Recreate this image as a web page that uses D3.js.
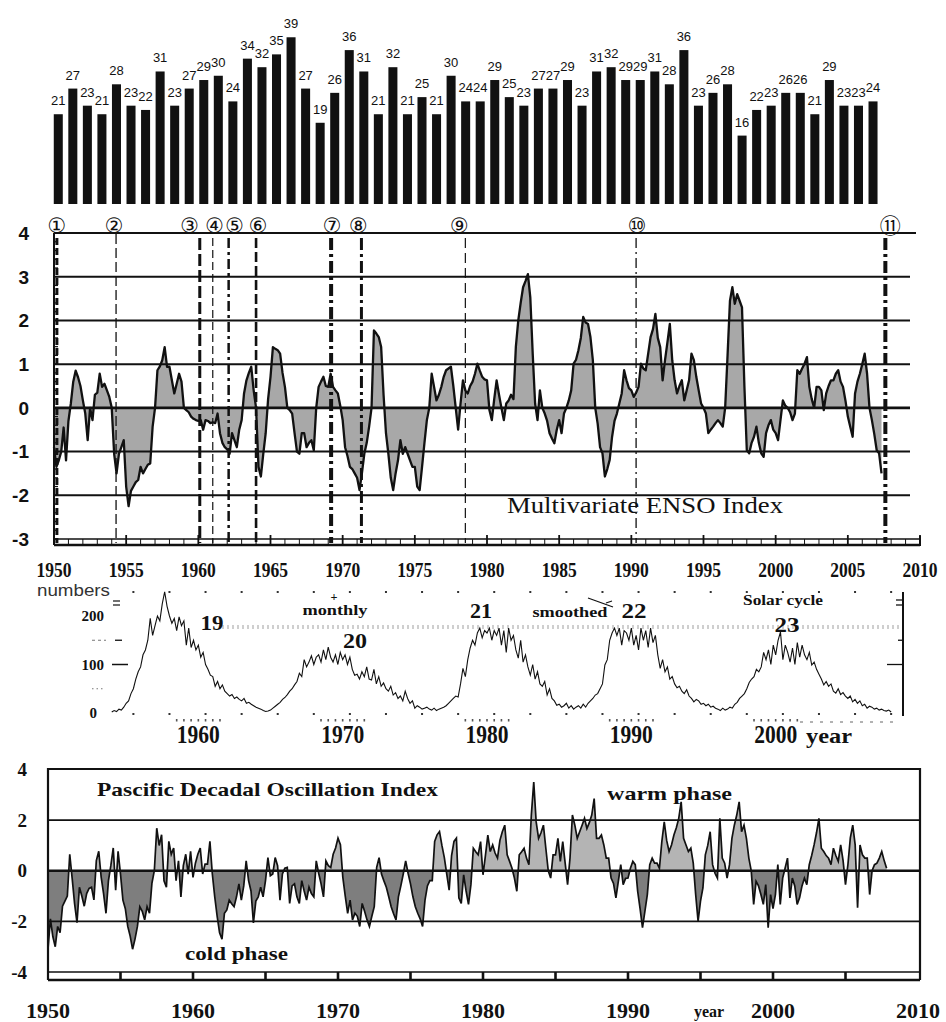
<!DOCTYPE html>
<html>
<head>
<meta charset="utf-8">
<script src="https://cdn.jsdelivr.net/npm/d3@7"></script>
<style>
  body { margin: 0; background: #fff; }
  svg { display: block; }
</style>
</head>
<body>
<svg id="fig" width="946" height="1022"></svg>
<script>
// ---------- data ----------
const stormYears = d3.range(1950, 2007);
const stormCounts = [21,27,23,21,28,23,22,31,23,27,29,30,24,34,32,35,39,27,19,26,
  36,31,21,32,21,25,21,30,24,24,29,25,23,27,27,29,23,31,32,29,29,31,28,36,23,26,28,
  16,22,23,26,26,21,29,23,23,24];

const eventYears = [1950.2, 1954.3, 1960.1, 1961.0, 1962.1, 1964.0, 1969.2, 1971.3, 1978.5, 1990.33, 2007.6];
const eventMarks = ["①","②","③","④","⑤","⑥","⑦","⑧","⑨","⑩","⑪"];

// Multivariate ENSO Index, six values per year from 1950
const meiStart = 1950;
const meiValues = [
  -0.9,-1.35,-1.2,-1.0,-0.45,-1.2,
  -0.3,0.1,0.6,0.85,0.7,0.5,
  0.17,-0.13,-0.74,0.0,-0.28,0.3,
  0.35,0.78,0.48,0.55,0.4,0.25,
  0.0,-1.05,-1.5,-1.05,-0.9,-0.74,
  -1.8,-2.25,-1.9,-1.8,-1.7,-1.65,
  -1.35,-1.5,-1.4,-1.3,-1.27,-0.43,
  0.0,0.86,0.95,1.09,1.39,0.94,
  0.94,0.63,0.33,0.55,0.78,0.6,
  0.0,-0.05,-0.1,-0.2,-0.25,-0.28,
  -0.3,-0.28,-0.5,-0.28,-0.3,-0.35,
  -0.33,-0.35,-0.13,-0.58,-0.8,-0.9,
  -0.95,-1.05,-0.58,-0.74,-0.9,-0.5,
  -0.28,0.33,0.63,0.8,0.94,0.4,
  0.0,-1.35,-1.57,-1.05,-0.58,0.2,
  0.71,1.39,1.35,1.32,1.24,0.8,
  0.48,0.0,-0.05,-0.13,-0.58,-1.0,
  -1.05,-0.58,-0.58,-0.9,-0.8,-0.74,
  -0.97,0.0,0.48,0.6,0.71,0.5,
  0.48,0.78,0.48,0.4,0.33,0.05,
  -0.28,-0.9,-1.1,-1.35,-1.4,-1.5,
  -1.6,-1.88,-1.5,-1.05,-0.8,-0.43,
  0.0,1.77,1.7,1.62,1.39,0.3,
  -0.58,-1.05,-1.6,-1.88,-1.5,-1.2,
  -0.74,-1.05,-0.9,-1.05,-1.2,-1.35,
  -1.35,-1.8,-1.88,-1.35,-0.8,-0.28,
  0.0,0.78,0.48,0.17,0.3,0.48,
  0.71,0.86,0.9,0.94,0.5,0.0,
  -0.5,0.1,0.63,0.4,0.33,0.5,
  0.6,0.78,1.01,0.85,0.71,0.65,
  0.63,-0.05,-0.28,0.2,0.63,0.3,
  0.0,-0.28,0.1,0.17,0.3,0.2,
  1.4,2.0,2.4,2.76,2.9,3.06,
  2.53,1.24,0.1,-0.28,0.4,0.0,
  -0.13,-0.3,-0.58,-0.7,-0.81,-0.5,
  -0.28,-0.58,-0.13,0.0,0.17,0.4,
  1.01,1.1,1.32,1.6,2.08,1.95,
  1.92,1.62,1.09,0.0,-0.36,-0.9,
  -1.04,-1.57,-1.4,-1.19,-0.66,-0.3,
  -0.13,0.1,0.33,0.86,0.63,0.45,
  0.4,0.25,0.35,0.48,1.01,0.9,
  0.86,1.24,1.62,1.8,2.15,1.6,
  1.39,0.63,1.09,1.5,1.92,1.09,
  0.63,0.33,0.5,0.63,0.17,0.4,
  0.63,1.24,1.09,0.71,0.4,0.1,
  0.0,-0.13,-0.58,-0.5,-0.43,-0.35,
  -0.28,-0.35,-0.43,0.0,1.2,2.45,
  2.76,2.38,2.6,2.45,2.3,0.5,
  -0.97,-1.04,-0.8,-0.66,-0.43,-0.8,
  -1.04,-1.12,-0.58,-0.4,-0.28,-0.5,
  -0.58,-0.74,-0.28,0.17,0.05,0.0,
  -0.1,-0.28,-0.13,0.86,0.78,0.9,
  1.01,1.16,0.48,0.2,0.0,0.48,
  0.48,0.4,-0.05,0.33,0.5,0.63,
  0.63,0.78,0.86,0.6,0.48,0.17,
  -0.2,-0.43,-0.66,0.33,0.6,0.78,
  1.0,1.24,0.78,0.0,-0.28,-0.6,
  -0.97,-1.04,-1.5
];

// Sunspot numbers, six values per year from 1954
const sunStart = 1954;
const sunValues = [
  2,5,3,8,6,12,
  20,25,40,50,70,85,
  95,120,130,150,195,160,
  180,200,190,225,250,220,
  200,185,195,170,198,180,
  190,140,175,135,150,130,
  140,115,125,100,90,78,
  75,55,65,50,58,45,
  40,35,38,30,33,28,
  25,30,20,22,18,15,
  12,10,8,5,3,4,
  6,10,14,18,22,28,
  32,38,45,50,58,65,
  82,75,110,95,105,118,
  100,115,120,105,130,110,
  136,115,105,120,100,125,
  110,120,100,115,90,78,
  80,70,85,75,95,70,
  68,90,60,75,55,62,
  50,45,55,37,42,30,
  35,25,45,30,20,25,
  10,15,12,8,10,12,
  8,6,10,5,8,10,
  12,15,20,25,30,35,
  33,60,92,75,110,134,
  150,140,165,175,155,170,
  165,175,150,170,160,175,
  140,170,125,175,150,160,
  130,113,150,105,120,95,
  78,100,70,85,60,55,
  65,37,50,30,25,16,
  18,12,15,20,10,15,
  8,12,15,10,18,12,
  20,25,30,37,40,50,
  60,99,110,150,165,175,
  160,175,140,170,165,150,
  175,140,160,130,175,150,
  170,135,175,145,160,120,
  92,110,85,95,70,75,
  60,52,55,45,40,48,
  35,30,23,28,25,18,
  20,15,18,12,14,10,
  8,5,10,6,8,12,
  10,18,22,30,35,40,
  50,63,70,75,90,85,
  95,125,110,130,100,140,
  120,150,167,110,140,125,
  105,134,100,145,115,140,
  120,110,125,99,105,90,
  80,70,58,65,55,60,
  45,41,50,38,42,35,
  30,35,23,28,20,25,
  15,18,10,14,12,8,
  10,6,8,5,4,6,
  2
];

// Pacific Decadal Oscillation index, six values per year from 1950
const pdoStart = 1950;
const pdoValues = [
  -3.1,-1.9,-2.6,-3.0,-2.2,-2.45,
  -1.4,-1.2,-1.0,0.65,-0.3,-1.3,
  -2.05,-0.65,-1.0,-1.4,-0.9,-0.7,
  -0.65,-1.15,0.4,0.77,-0.25,-0.9,
  -1.68,-0.4,0.2,0.9,-0.77,0.77,
  -0.13,-1.16,-1.5,-2.2,-2.58,-3.1,
  -2.7,-2.2,-1.42,-1.6,-1.94,-1.42,
  -1.68,-0.5,0.0,1.68,1.0,1.42,
  -0.4,-0.65,1.16,0.65,0.9,-0.39,
  0.39,-1.03,0.2,0.65,-0.13,0.77,
  -0.26,0.3,0.65,0.9,-0.13,0.26,
  0.26,1.16,-0.13,-1.03,-1.8,-2.45,
  -2.7,-1.68,-1.55,-1.16,-1.3,-1.42,
  -1.03,-0.52,-1.16,-0.6,0.39,-0.39,
  -0.8,-2.06,-1.2,-1.03,-0.65,-1.03,
  -0.39,0.52,-0.2,-0.13,0.52,0.2,
  -1.16,-0.13,0.1,0.13,-1.29,-0.6,
  -0.52,-1.03,-1.29,-0.39,-0.8,-1.16,
  -0.65,-0.9,-1.03,0.39,-0.1,-0.52,
  -1.03,0.39,0.2,0.13,0.65,0.9,
  1.29,1.03,-0.26,-1.0,-1.68,-1.16,
  -1.94,-1.68,-1.8,-2.2,-1.29,-1.6,
  -1.94,-2.2,-1.8,-1.42,0.13,0.52,
  -0.13,-0.4,-0.65,-1.03,-1.42,-1.7,
  -1.94,-1.03,-0.6,-0.13,0.39,-0.1,
  -0.52,-1.03,-1.42,-1.68,-1.9,-2.2,
  -1.16,-0.6,-0.39,-0.39,1.16,1.42,
  1.55,1.0,0.52,-0.13,-0.77,0.6,
  1.16,1.29,-1.07,-1.29,-0.16,-0.8,
  -1.33,-0.55,0.89,0.75,0.63,1.15,
  -0.16,0.6,1.41,0.76,1.02,0.7,
  0.5,1.2,1.54,1.8,0.63,0.37,
  0.1,-0.29,-0.81,0.63,0.75,0.89,
  0.5,0.24,2.2,3.5,1.93,1.28,
  1.5,1.8,0.89,0.0,-0.29,0.63,
  0.63,1.28,0.37,1.15,0.3,-0.55,
  0.5,2.2,1.8,1.28,1.54,1.8,
  2.07,1.67,1.9,2.2,2.85,1.28,
  1.28,1.41,1.02,0.5,0.5,-0.29,
  -0.5,-1.07,-0.42,0.24,-0.55,-0.3,
  -0.29,0.1,0.37,0.24,-0.81,-1.5,
  -2.25,-1.6,-0.94,0.24,0.5,0.3,
  0.3,0.1,1.15,1.93,1.2,0.76,
  1.02,1.41,1.7,2.07,2.72,1.28,
  1.02,0.76,0.89,0.3,-0.94,-1.99,
  -1.2,-0.68,0.63,1.0,1.54,0.24,
  -0.1,-0.29,2.07,0.5,0.3,-0.29,
  0.24,1.28,1.8,2.2,2.72,1.54,
  1.8,1.28,0.5,0.0,-1.33,-0.42,
  -0.6,-0.94,-1.33,-0.55,-2.25,-0.94,
  -1.5,-0.94,0.24,-1.33,-0.29,0.1,
  0.5,-1.07,-0.29,-0.6,-1.33,-1.07,
  -0.6,-0.29,-0.55,0.24,0.6,1.02,
  1.5,2.07,0.89,0.76,0.6,0.5,
  0.24,0.89,0.6,0.37,1.02,0.4,
  -0.55,0.24,1.3,1.8,1.02,-1.46,
  1.02,0.63,0.5,0.5,-0.94,0.0,
  0.24,0.3,0.5,0.76,0.4,0.1
];

const meiTickLabels = d3.range(1950, 2011, 5);
const meiGridValues = [4, 3, 2, 1, 0, -1, -2];
const meiAxisLabels = [4, 3, 2, 1, 0, -1, -2, -3];
const sunTickLabels = [1960, 1970, 1980, 1990, 2000];
const sunAxisLabels = [0, 100, 200];
const pdoTickLabels = d3.range(1950, 2011, 10);
const pdoAxisLabels = [4, 2, 0, -2, -4];

// ---------- drawing ----------
const svg = d3.select("#fig");
const SERIF = "'Liberation Serif', 'Times New Roman', serif";
const SANS = "'Liberation Sans', Arial, sans-serif";
const INK = "#111";
const perYear = 6;

// ===== tropical storm counts (bars) =====
const xBar = d3.scaleBand().domain(stormYears).range([51, 880.3]).paddingInner(0.38).paddingOuter(0.19);
const yBar = d3.scaleLinear().domain([0, 40]).range([204, 33]);
const gBar = svg.append("g");
gBar.selectAll("rect").data(stormCounts).join("rect")
  .attr("x", (d, i) => xBar(stormYears[i]))
  .attr("width", xBar.bandwidth())
  .attr("y", d => yBar(d))
  .attr("height", d => yBar(0) - yBar(d))
  .attr("fill", INK);
gBar.selectAll("text").data(stormCounts).join("text")
  .attr("x", (d, i) => xBar(stormYears[i]) + xBar.bandwidth() / 2)
  .attr("y", d => yBar(d) - 9)
  .attr("text-anchor", "middle")
  .attr("font-family", SANS).attr("font-size", 13).attr("fill", INK)
  .text(d => d);

// ===== Multivariate ENSO Index =====
const x = d3.scaleLinear().domain([1950, 2010]).range([54, 920]);
const yMei = d3.scaleLinear().domain([-3, 4]).range([539, 233]);
const meiPts = meiValues.map((v, i) => [meiStart + i / perYear, v]);
const gMei = svg.append("g");

gMei.append("path").datum(meiPts)
  .attr("d", d3.area().x(d => x(d[0])).y0(yMei(0)).y1(d => yMei(d[1])))
  .attr("fill", "#a8a8a8");

gMei.selectAll("line.grid").data(meiGridValues).join("line").attr("class", "grid")
  .attr("x1", 54).attr("x2", d => d === 4 ? 916 : 910)
  .attr("y1", d => yMei(d)).attr("y2", d => yMei(d))
  .attr("stroke", INK).attr("stroke-width", d => d === 0 ? 2.6 : 2);

gMei.append("path").datum(meiPts)
  .attr("d", d3.line().x(d => x(d[0])).y(d => yMei(d[1])))
  .attr("fill", "none").attr("stroke", INK).attr("stroke-width", 2.3)
  .attr("stroke-linejoin", "round");

// left axis with fine ticks
gMei.append("line").attr("x1", 54).attr("x2", 54).attr("y1", 233).attr("y2", 545)
  .attr("stroke", INK).attr("stroke-width", 2);
gMei.selectAll("line.ltick").data(d3.range(-3, 4.01, 0.2)).join("line").attr("class", "ltick")
  .attr("x1", 54).attr("x2", 58).attr("y1", d => yMei(d)).attr("y2", d => yMei(d))
  .attr("stroke", INK).attr("stroke-width", 1.2);

// bottom double axis with yearly ticks
gMei.append("line").attr("x1", 54).attr("x2", 920).attr("y1", 539).attr("y2", 539)
  .attr("stroke", INK).attr("stroke-width", 1.3);
gMei.append("line").attr("x1", 54).attr("x2", 920).attr("y1", 545).attr("y2", 545)
  .attr("stroke", INK).attr("stroke-width", 2.6);
gMei.selectAll("line.btick").data(d3.range(1950, 2011)).join("line").attr("class", "btick")
  .attr("x1", d => x(d)).attr("x2", d => x(d))
  .attr("y1", d => d % 5 === 0 ? 535 : 539).attr("y2", 545)
  .attr("stroke", INK).attr("stroke-width", d => d % 5 === 0 ? 1.8 : 1);
gMei.append("line").attr("x1", 920).attr("x2", 920).attr("y1", 536).attr("y2", 546)
  .attr("stroke", INK).attr("stroke-width", 2);

gMei.selectAll("text.ylab").data(meiAxisLabels).join("text").attr("class", "ylab")
  .attr("x", 29).attr("y", d => yMei(d)).attr("dy", "0.36em")
  .attr("text-anchor", "end").attr("font-family", SANS).attr("font-weight", "bold")
  .attr("font-size", 19).attr("fill", INK).text(d => d);

gMei.selectAll("text.xlab").data(meiTickLabels).join("text").attr("class", "xlab")
  .attr("x", d => x(d)).attr("y", 577)
  .attr("text-anchor", "middle").attr("font-family", SERIF).attr("font-weight", "bold")
  .attr("font-size", 21).attr("textLength", 35).attr("lengthAdjust", "spacingAndGlyphs")
  .attr("fill", INK).text(d => d);

gMei.append("text").attr("x", 507).attr("y", 513)
  .attr("font-family", SERIF).attr("font-size", 24)
  .attr("textLength", 276).attr("lengthAdjust", "spacingAndGlyphs")
  .attr("fill", INK).text("Multivariate ENSO Index");

// event lines and circled markers
const eventStroke = [
  { w: 3, dash: "7,3" }, { w: 1.3, dash: "10,4" }, { w: 3, dash: "12,4" },
  { w: 1.2, dash: "8,4" }, { w: 2.5, dash: "10,4,3,4" }, { w: 2.6, dash: "10,4" },
  { w: 4, dash: "12,4,3,4" }, { w: 3, dash: "12,4,3,4" }, { w: 1.2, dash: "10,5" },
  { w: 1.3, dash: "10,4,2,4" }, { w: 4, dash: "12,4,3,4" }
];
const markShift = [0, -2, -10, 2, 6, 2, 1, -3, -6, 1, 5];
const gEvt = svg.append("g");
gEvt.selectAll("line").data(eventYears).join("line")
  .attr("x1", d => x(d)).attr("x2", d => x(d))
  .attr("y1", (d, i) => i === 1 ? 234 : 238).attr("y2", 543)
  .attr("stroke", INK)
  .attr("stroke-width", (d, i) => eventStroke[i].w)
  .attr("stroke-dasharray", (d, i) => eventStroke[i].dash);
gEvt.selectAll("text").data(eventYears).join("text")
  .attr("x", (d, i) => x(d) + markShift[i]).attr("y", 226).attr("dy", "0.35em")
  .attr("text-anchor", "middle")
  .attr("font-family", "'DejaVu Sans', 'Noto Sans CJK JP', sans-serif")
  .attr("font-size", 21).attr("fill", INK)
  .text((d, i) => eventMarks[i]);

// ===== sunspot numbers =====
const ySun = d3.scaleLinear().domain([0, 200]).range([713, 616]);
const sunPts = sunValues.map((v, i) => [sunStart + i / perYear, v]);
const gSun = svg.append("g");

// faint dotted band and dotted frame rows
gSun.append("line").attr("x1", 222).attr("x2", 906).attr("y1", 627).attr("y2", 627)
  .attr("stroke", "#cfcfcf").attr("stroke-width", 4).attr("stroke-dasharray", "2,3");
const dotYears = d3.range(1955.5, 2009, 2.5);
gSun.selectAll("rect.topdot").data(dotYears).join("rect").attr("class", "topdot")
  .attr("x", d => x(d) - 1).attr("y", 591).attr("width", 2).attr("height", 2).attr("fill", "#333");
gSun.selectAll("rect.botdot").data(dotYears).join("rect").attr("class", "botdot")
  .attr("x", d => x(d) - 1).attr("y", 713).attr("width", 2).attr("height", 2).attr("fill", "#333");
const minorDots = sunTickLabels.flatMap(t => d3.range(-1.5, 1.6, 0.5).map(o => t + o));
gSun.selectAll("rect.mdot").data(minorDots).join("rect").attr("class", "mdot")
  .attr("x", d => x(d) - 0.8).attr("y", 719).attr("width", 1.6).attr("height", 2.5).attr("fill", "#555");
gSun.append("line").attr("x1", 800).attr("x2", 896).attr("y1", 722).attr("y2", 722)
  .attr("stroke", "#666").attr("stroke-width", 1.2).attr("stroke-dasharray", "3,7");

gSun.append("path").datum(sunPts)
  .attr("d", d3.line().x(d => x(d[0])).y(d => ySun(d[1])))
  .attr("fill", "none").attr("stroke", INK).attr("stroke-width", 1.1)
  .attr("stroke-linejoin", "miter");

// left ticks
gSun.append("line").attr("x1", 112).attr("x2", 128).attr("y1", ySun(100)).attr("y2", ySun(100))
  .attr("stroke", INK).attr("stroke-width", 1.5);
gSun.append("line").attr("x1", 115).attr("x2", 122).attr("y1", ySun(150)).attr("y2", ySun(150))
  .attr("stroke", INK).attr("stroke-width", 1.3);
gSun.append("line").attr("x1", 92).attr("x2", 106).attr("y1", ySun(150)).attr("y2", ySun(150))
  .attr("stroke", "#777").attr("stroke-width", 1).attr("stroke-dasharray", "3,3");
gSun.append("line").attr("x1", 92).attr("x2", 104).attr("y1", ySun(50)).attr("y2", ySun(50))
  .attr("stroke", "#777").attr("stroke-width", 1).attr("stroke-dasharray", "1.5,3");
gSun.selectAll("line.eq").data([0, 4]).join("line").attr("class", "eq")
  .attr("x1", 113).attr("x2", 120).attr("y1", d => 601 + d).attr("y2", d => 601 + d)
  .attr("stroke", INK).attr("stroke-width", 1.2);

// right axis
gSun.append("line").attr("x1", 903).attr("x2", 903).attr("y1", 592).attr("y2", 716)
  .attr("stroke", INK).attr("stroke-width", 2);
gSun.selectAll("line.req").data([600, 605]).join("line").attr("class", "req")
  .attr("x1", 896).attr("x2", 903).attr("y1", d => d).attr("y2", d => d)
  .attr("stroke", INK).attr("stroke-width", 1.3);
gSun.append("line").attr("x1", 898).attr("x2", 903).attr("y1", ySun(150)).attr("y2", ySun(150))
  .attr("stroke", INK).attr("stroke-width", 1.3);
gSun.append("line").attr("x1", 887).attr("x2", 903).attr("y1", ySun(100)).attr("y2", ySun(100))
  .attr("stroke", INK).attr("stroke-width", 1.3);

gSun.selectAll("text.ylab").data(sunAxisLabels).join("text").attr("class", "ylab")
  .attr("x", d => d === 0 ? 97 : 104).attr("y", d => ySun(d)).attr("dy", "0.35em")
  .attr("text-anchor", "end").attr("font-family", SERIF).attr("font-weight", "bold")
  .attr("font-size", 15).attr("fill", INK).text(d => d);

gSun.selectAll("text.xlab").data(sunTickLabels).join("text").attr("class", "xlab")
  .attr("x", d => x(d)).attr("y", 743)
  .attr("text-anchor", "middle").attr("font-family", SERIF).attr("font-weight", "bold")
  .attr("font-size", 26).attr("textLength", 43).attr("lengthAdjust", "spacingAndGlyphs")
  .attr("fill", INK).text(d => d);
gSun.append("text").attr("x", 829).attr("y", 743).attr("text-anchor", "middle")
  .attr("font-family", SERIF).attr("font-weight", "bold").attr("font-size", 22)
  .attr("textLength", 46).attr("lengthAdjust", "spacingAndGlyphs").attr("fill", INK).text("year");

gSun.append("text").attr("x", 37).attr("y", 596)
  .attr("font-family", SANS).attr("font-size", 17).attr("font-weight", "300")
  .attr("fill", "#333")
  .attr("textLength", 73).attr("lengthAdjust", "spacingAndGlyphs").text("numbers");

const sunNotes = [
  { t: "19", x: 212, y: 630, s: 22, w: 23 },
  { t: "20", x: 355, y: 648, s: 22, w: 24 },
  { t: "21", x: 481, y: 618, s: 22, w: 22 },
  { t: "22", x: 634, y: 618, s: 22, w: 25 },
  { t: "23", x: 787, y: 632, s: 22, w: 25 },
  { t: "monthly", x: 335, y: 615, s: 15, w: 65 },
  { t: "smoothed", x: 570, y: 617, s: 15, w: 75 },
  { t: "Solar cycle", x: 783, y: 605, s: 15, w: 80 },
  { t: "+", x: 334, y: 601, s: 13, w: 7 }
];
gSun.selectAll("text.note").data(sunNotes).join("text").attr("class", "note")
  .attr("x", d => d.x).attr("y", d => d.y).attr("text-anchor", "middle")
  .attr("font-family", SERIF).attr("font-weight", "bold").attr("font-size", d => d.s)
  .attr("textLength", d => d.w).attr("lengthAdjust", "spacingAndGlyphs")
  .attr("fill", INK).text(d => d.t);
gSun.append("path").attr("d", "M588,598 L613,607 M606,603 L612,601")
  .attr("fill", "none").attr("stroke", INK).attr("stroke-width", 1.2);

// ===== Pacific Decadal Oscillation Index =====
const xP = d3.scaleLinear().domain([1950, 2010]).range([48, 918]);
const yP = d3.scaleLinear().domain([-4, 4]).range([972, 769.5]);
const pdoPts = pdoValues.map((v, i) => [pdoStart + i / perYear, v]);
const gPdo = svg.append("g");
const defs = svg.append("defs");
defs.append("clipPath").attr("id", "pdoPos").append("rect")
  .attr("x", 40).attr("y", 760).attr("width", 900).attr("height", yP(0) - 760);
defs.append("clipPath").attr("id", "pdoNeg").append("rect")
  .attr("x", 40).attr("y", yP(0)).attr("width", 900).attr("height", 990 - yP(0));

const pdoArea = d3.area().x(d => xP(d[0])).y0(yP(0)).y1(d => yP(d[1]));
gPdo.append("path").datum(pdoPts).attr("d", pdoArea)
  .attr("fill", "#b4b4b4").attr("clip-path", "url(#pdoPos)");
gPdo.append("path").datum(pdoPts).attr("d", pdoArea)
  .attr("fill", "#7e7e7e").attr("clip-path", "url(#pdoNeg)");

gPdo.selectAll("line.grid").data([2, 0, -2]).join("line").attr("class", "grid")
  .attr("x1", 48).attr("x2", 920).attr("y1", d => yP(d)).attr("y2", d => yP(d))
  .attr("stroke", INK).attr("stroke-width", d => d === 0 ? 2.4 : 1.8);

gPdo.append("path").datum(pdoPts)
  .attr("d", d3.line().x(d => xP(d[0])).y(d => yP(d[1])))
  .attr("fill", "none").attr("stroke", INK).attr("stroke-width", 1.7)
  .attr("stroke-linejoin", "miter");

// frame
gPdo.append("path").attr("d", "M48,980 L48,769 L920,769 L920,980")
  .attr("fill", "none").attr("stroke", INK).attr("stroke-width", 2.2);
gPdo.append("line").attr("x1", 48).attr("x2", 920).attr("y1", 972).attr("y2", 972)
  .attr("stroke", INK).attr("stroke-width", 1.6);
gPdo.append("line").attr("x1", 48).attr("x2", 920).attr("y1", 980).attr("y2", 980)
  .attr("stroke", INK).attr("stroke-width", 2.6);
gPdo.selectAll("line.tick").data(d3.range(1955, 2010, 5)).join("line").attr("class", "tick")
  .attr("x1", d => xP(d)).attr("x2", d => xP(d)).attr("y1", 972).attr("y2", 980)
  .attr("stroke", INK).attr("stroke-width", 2.6);

gPdo.selectAll("text.ylab").data(pdoAxisLabels).join("text").attr("class", "ylab")
  .attr("x", 27).attr("y", d => yP(d)).attr("dy", "0.35em")
  .attr("text-anchor", "end").attr("font-family", SERIF).attr("font-weight", "bold")
  .attr("font-size", 19).attr("fill", INK).text(d => d);
gPdo.selectAll("text.xlab").data(pdoTickLabels).join("text").attr("class", "xlab")
  .attr("x", d => xP(d)).attr("y", 1018)
  .attr("text-anchor", "middle").attr("font-family", SERIF).attr("font-weight", "bold")
  .attr("font-size", 22).attr("fill", INK).text(d => d);
gPdo.append("text").attr("x", 709).attr("y", 1017).attr("text-anchor", "middle")
  .attr("font-family", SERIF).attr("font-weight", "bold").attr("font-size", 16)
  .attr("fill", INK).text("year");

const pdoNotes = [
  { t: "Pascific Decadal Oscillation Index", x: 97, y: 796, w: 341 },
  { t: "cold phase", x: 185, y: 960, w: 103 },
  { t: "warm phase", x: 607, y: 800, w: 125 }
];
gPdo.selectAll("text.note").data(pdoNotes).join("text").attr("class", "note")
  .attr("x", d => d.x).attr("y", d => d.y)
  .attr("font-family", SERIF).attr("font-weight", "bold").attr("font-size", 19)
  .attr("textLength", d => d.w).attr("lengthAdjust", "spacingAndGlyphs")
  .attr("fill", INK).text(d => d.t);
</script>
</body>
</html>
